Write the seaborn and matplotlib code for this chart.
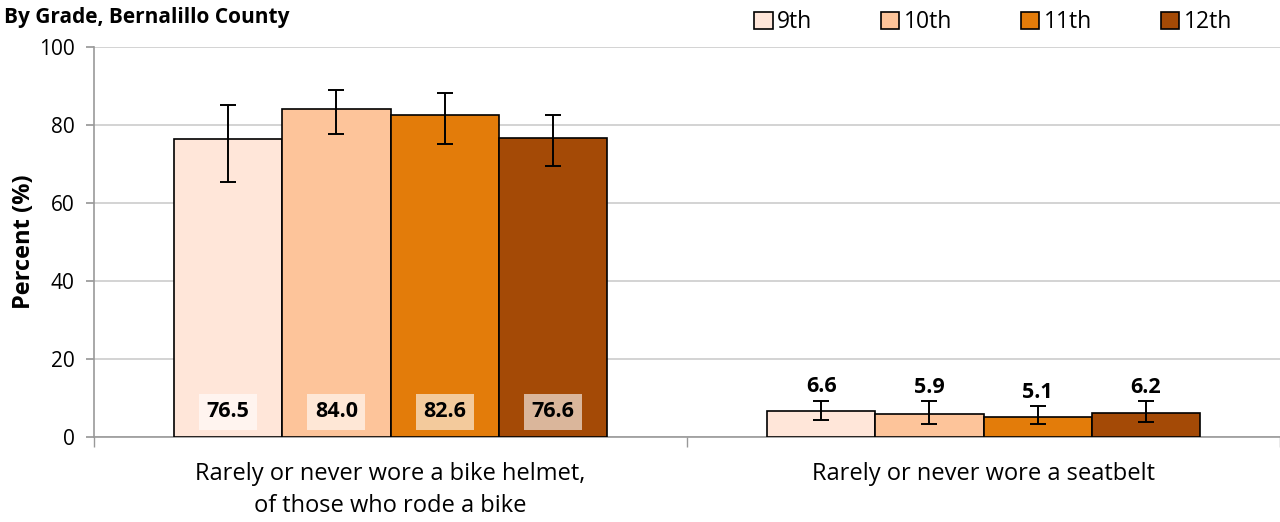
import matplotlib
matplotlib.use("Agg")
import matplotlib.pyplot as plt
import seaborn as sns
import pandas as pd
import numpy as np
from matplotlib.patches import Patch

categories = ["Rarely or never wore a bike helmet,\nof those who rode a bike",
              "Rarely or never wore a seatbelt"]
grades = ["9th", "10th", "11th", "12th"]
helmet = [76.5, 84.0, 82.6, 76.6]
seatbelt = [6.6, 5.9, 5.1, 6.2]
helmet_lo = [65.4, 77.7, 75.1, 69.5]
helmet_hi = [85.1, 89.0, 88.2, 82.6]
seatbelt_lo = [4.4, 3.4, 3.2, 3.9]
seatbelt_hi = [9.3, 9.2, 7.8, 9.2]
colors = ["#FFE6D9", "#FDC49A", "#E37C0A", "#A44A06"]

sns.set_theme(style="white")
plt.rcParams['font.family'] = ['Open Sans', 'DejaVu Sans']
plt.rcParams['text.color'] = 'black'
plt.rcParams['axes.labelcolor'] = 'black'
plt.rcParams['xtick.color'] = 'black'
plt.rcParams['ytick.color'] = 'black'

rows = []
for g, h, s in zip(grades, helmet, seatbelt):
    rows.append({"Category": categories[0], "Grade": g, "Value": h})
    rows.append({"Category": categories[1], "Grade": g, "Value": s})
df = pd.DataFrame(rows)

fig = plt.figure(figsize=(12.8, 5.22), dpi=100)
ax = fig.add_axes([0.0735, 0.163, 0.9265, 0.747])

sns.barplot(data=df, x="Category", y="Value", hue="Grade", order=categories,
            hue_order=grades, palette=colors, saturation=1, width=0.73,
            edgecolor="black", linewidth=1.2, errorbar=None, ax=ax,
            legend=False, zorder=3)

ax.set_ylim(0, 100)
ax.set_xlim(-0.5, 1.5)
ax.set_yticks([0, 20, 40, 60, 80, 100])
ax.yaxis.grid(True, color="#CCCCCC", linewidth=1.2, zorder=0)
ax.set_axisbelow(True)
for sp in ["top", "right"]:
    ax.spines[sp].set_visible(False)
for sp in ["left", "bottom"]:
    ax.spines[sp].set_color("#999999")
    ax.spines[sp].set_linewidth(1.2)
ax.tick_params(axis="y", labelsize=15, left=True, length=6, color="#999999", pad=8)
ax.set_xticks([0, 1])
ax.set_xticklabels(categories, fontsize=17, linespacing=1.45)
ax.set_xticks([-0.5, 0.5, 1.5], minor=True)
ax.tick_params(axis="x", which="major", bottom=False, pad=12)
ax.tick_params(axis="x", which="minor", bottom=True, length=7, color="#999999")
ax.set_xlabel("")
ax.set_ylabel("Percent (%)", fontsize=17, fontweight="bold", labelpad=2)

bars = [p for p in ax.patches if p.get_width() > 0]
lo_all = [helmet_lo, seatbelt_lo]
hi_all = [helmet_hi, seatbelt_hi]
vals_all = [helmet, seatbelt]
idx = 0
for gi in range(len(grades)):
    for ci in range(len(categories)):
        p = bars[idx]
        idx += 1
        xc = p.get_x() + p.get_width() / 2
        v = vals_all[ci][gi]
        lo = lo_all[ci][gi]
        hi = hi_all[ci][gi]
        ax.errorbar(xc, v, yerr=[[v - lo], [hi - v]], fmt="none", ecolor="black",
                    elinewidth=1.4, capsize=6, capthick=1.4, zorder=4)
        if ci == 0:
            ax.text(xc, 6.4, f"{v:.1f}", ha="center", va="center", fontsize=15.5,
                    fontweight="bold", zorder=5,
                    bbox=dict(boxstyle="square,pad=0.35", facecolor="white",
                              alpha=0.6, edgecolor="none"))
        else:
            ax.text(xc, hi + 0.9, f"{v:.1f}", ha="center", va="bottom", fontsize=15.5,
                    fontweight="bold", zorder=5)

fig.text(0.003, 0.966, "By Grade, Bernalillo County", fontsize=15,
         fontweight="bold", ha="left", va="center")

handles = [Patch(facecolor=c, edgecolor="black", linewidth=1.2) for c in colors]
fig.legend(handles, grades, loc="center", bbox_to_anchor=(0.776, 0.957), ncol=4,
           frameon=False, fontsize=16.5, handlelength=0.8, handleheight=0.8,
           handletextpad=0.2, columnspacing=3.0)

fig.savefig("out.png", dpi=100)
